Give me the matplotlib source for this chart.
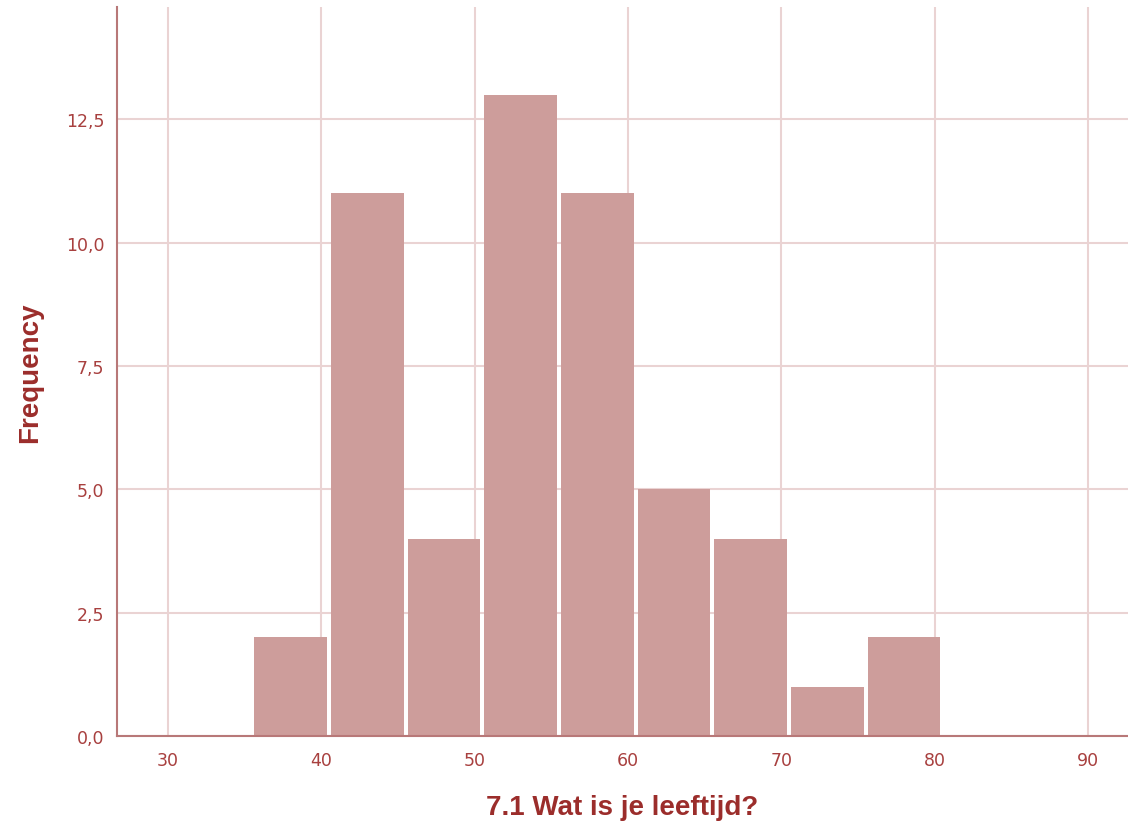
import numpy as np
import matplotlib.pyplot as plt
from matplotlib.ticker import FuncFormatter

# Histogram of age (bins of 5 years, centred on 38, 43, ...)
bin_edges = [35.5, 40.5, 45.5, 50.5, 55.5, 60.5, 65.5, 70.5, 75.5, 80.5]
counts = [2, 11, 4, 13, 11, 5, 4, 1, 2]

x_ticks = [30, 40, 50, 60, 70, 80, 90]
y_ticks = [0, 2.5, 5, 7.5, 10, 12.5]

bar_color = '#CD9D9B'
axis_color = '#B87878'
grid_color = '#EAD3D3'
text_color = '#A8403F'
title_color = '#9B2D2B'

plt.rcParams['font.family'] = ['DejaVu Sans']

fig = plt.figure(figsize=(11.28, 8.29), dpi=100)
ax = fig.add_axes([0.1037, 0.111, 0.8963, 0.879])

# small white gap between bars, like the original
edges = np.array(bin_edges)
gap = 0.27
ax.bar(edges[:-1] + gap / 2, counts, width=np.diff(edges) - gap, align='edge',
       color=bar_color, linewidth=0, zorder=3)

ax.set_xlim(26.67, 92.6)
ax.set_ylim(0, 14.77)
ax.set_xticks(x_ticks)
ax.set_yticks(y_ticks)
ax.yaxis.set_major_formatter(FuncFormatter(lambda v, p: f"{v:.1f}".replace('.', ',')))

ax.grid(True, color=grid_color, linewidth=1.5, zorder=0)
ax.tick_params(length=0, colors=text_color, labelsize=12.5)
ax.tick_params(axis='x', pad=11)
ax.tick_params(axis='y', pad=9)

for s in ['top', 'right']:
    ax.spines[s].set_visible(False)
for s in ['left', 'bottom']:
    ax.spines[s].set_color(axis_color)
    ax.spines[s].set_linewidth(1.5)
    ax.spines[s].set_zorder(4)

ax.set_xlabel('7.1 Wat is je leeftijd?', fontsize=20, fontweight='bold',
              color=title_color, family='Liberation Sans')
ax.set_ylabel('Frequency', fontsize=20, fontweight='bold',
              color=title_color, family='Liberation Sans')
ax.xaxis.label.set_va('center')
ax.yaxis.label.set_va('center')
ax.xaxis.set_label_coords(0.5, -0.0974)
ax.yaxis.set_label_coords(-0.086, 0.5)

fig.savefig('out.png', dpi=100)
